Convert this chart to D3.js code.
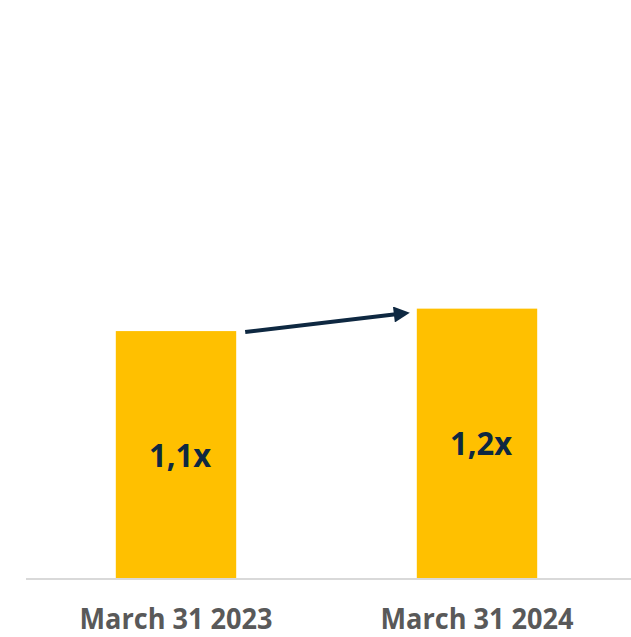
<!DOCTYPE html>
<html>
<head>
<meta charset="utf-8">
<script src="https://cdnjs.cloudflare.com/ajax/libs/d3/7.8.5/d3.min.js"></script>
<style>
  body { margin: 0; background: #fff; }
  svg { display: block; }
</style>
</head>
<body>
<svg width="631" height="637"></svg>
<script>
var categories = ['March 31 2023', 'March 31 2024'];
var values = [1.1, 1.2];
var valueLabels = ['1,1x', '1,2x'];

var svg = d3.select('svg');

var ScaleX = d3.scaleBand().domain(categories).range([25.5, 627.5])
    .paddingInner(0.6).paddingOuter(0.3);
var ScaleY = d3.scaleLinear().domain([0, 2.575]).range([578, 0]);

// baseline
svg.append('line')
    .attr('x1', 26).attr('x2', 631)
    .attr('y1', 579).attr('y2', 579)
    .attr('stroke', '#d9d9d9')
    .attr('stroke-width', 2);

svg.selectAll('rect.bar')
    .data(values)
    .enter()
    .append('rect')
    .attr('class', 'bar')
    .attr('x', function(d, i){ return ScaleX(categories[i]); })
    .attr('y', function(d){ return ScaleY(d); })
    .attr('width', ScaleX.bandwidth())
    .attr('height', function(d){ return ScaleY(0) - ScaleY(d); })
    .attr('fill', '#ffc000');

svg.selectAll('text.val')
    .data(values)
    .enter()
    .append('text')
    .attr('class', 'val')
    .attr('x', function(d, i){ return ScaleX(categories[i]) + ScaleX.bandwidth() / 2 + 4; })
    .attr('y', function(d){ return (ScaleY(d) + ScaleY(0)) / 2 + 12; })
    .attr('text-anchor', 'middle')
    .attr('font-family', 'Open Sans, sans-serif')
    .attr('font-weight', 'bold')
    .attr('font-size', 31.5)
    .attr('fill', '#0e2841')
    .attr('textLength', 62)
    .attr('lengthAdjust', 'spacingAndGlyphs')
    .text(function(d, i){ return valueLabels[i]; });

// category labels
svg.selectAll('text.cat')
    .data(categories)
    .enter()
    .append('text')
    .attr('class', 'cat')
    .attr('x', function(d){ return ScaleX(d) + ScaleX.bandwidth() / 2; })
    .attr('y', 629)
    .attr('text-anchor', 'middle')
    .attr('font-family', 'Open Sans, sans-serif')
    .attr('font-weight', 'bold')
    .attr('font-size', 28.5)
    .attr('fill', '#595959')
    .attr('textLength', 193)
    .attr('lengthAdjust', 'spacingAndGlyphs')
    .text(function(d){ return d; });

// arrow
svg.append('defs').append('marker')
    .attr('id', 'head')
    .attr('viewBox', '0 0 10 10')
    .attr('refX', 10).attr('refY', 5)
    .attr('markerUnits', 'userSpaceOnUse')
    .attr('markerWidth', 17).attr('markerHeight', 16)
    .attr('orient', 'auto')
    .append('path')
    .attr('d', 'M0,0 L10,5 L0,10 Z')
    .attr('fill', '#0e2841');

var x1 = ScaleX(categories[0]) + ScaleX.bandwidth() + 9;
var y1 = ScaleY(values[0]) + 1;
var x2 = ScaleX(categories[1]) - 7;
var y2 = ScaleY(values[1]) + 4;

svg.append('line')
    .attr('x1', x1).attr('y1', y1)
    .attr('x2', x2 - 14).attr('y2', y2 + 14 * (y1 - y2) / (x2 - x1))
    .attr('stroke', '#0e2841')
    .attr('stroke-width', 4);

svg.append('line')
    .attr('x1', x2 - 15).attr('y1', y2 + 15 * (y1 - y2) / (x2 - x1))
    .attr('x2', x2).attr('y2', y2)
    .attr('stroke', 'none')
    .attr('marker-end', 'url(#head)');
</script>
</body>
</html>
